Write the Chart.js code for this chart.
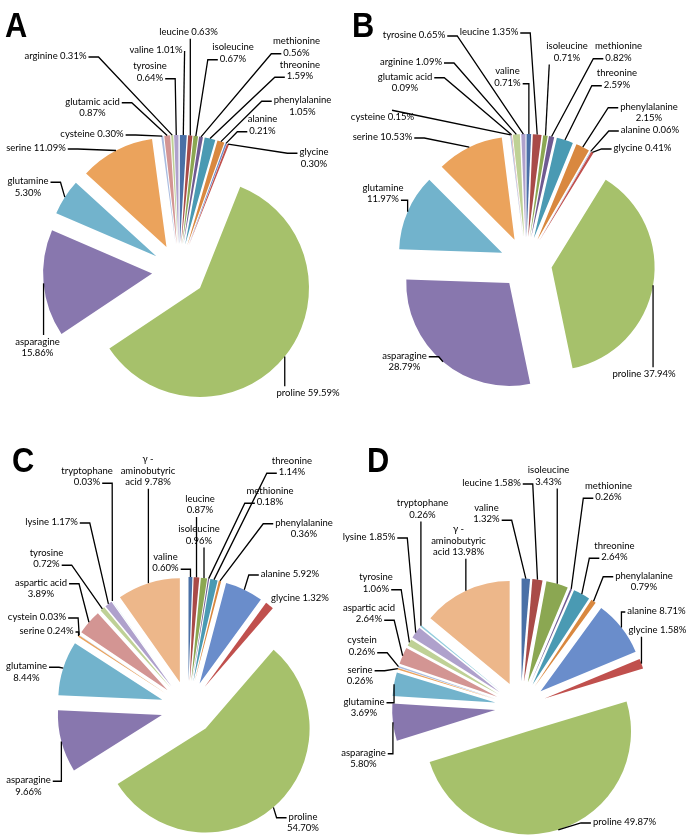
<!DOCTYPE html>
<html>
<head>
<meta charset="utf-8">
<script src="https://cdn.jsdelivr.net/npm/chart.js@4.4.1/dist/chart.umd.min.js"></script>
<style>
  body { margin: 0; background: #fff; }
  #wrap { position: relative; width: 689px; height: 838px; overflow: hidden; }
  #wrap canvas { position: absolute; left: 0; top: 0; }
  .tag { position: absolute; font: bold 35px "Liberation Sans", Arial, sans-serif; line-height: 35px; color: #000; transform: scaleX(0.88); transform-origin: left top; }
</style>
</head>
<body>
<div id="wrap">
  <canvas id="pieA" width="689" height="838"></canvas>
  <canvas id="pieB" width="689" height="838"></canvas>
  <canvas id="pieC" width="689" height="838"></canvas>
  <canvas id="pieD" width="689" height="838"></canvas>
  <div class="tag" style="left:5px;top:7px">A</div>
  <div class="tag" style="left:352px;top:7px">B</div>
  <div class="tag" style="left:12px;top:442px">C</div>
  <div class="tag" style="left:367px;top:442px">D</div>
</div>
<script>
// amino acids, clockwise from 12 o'clock
const namesAB = ['valine', 'leucine', 'isoleucine', 'methionine', 'threonine', 'phenylalanine',
  'alanine', 'glycine', 'proline', 'asparagine', 'glutamine', 'serine',
  'cysteine', 'glutamic acid', 'arginine', 'tyrosine'];
const namesCD = ['valine', 'leucine', 'isoleucine', 'methionine', 'threonine', 'phenylalanine',
  'alanine', 'glycine', 'proline', 'asparagine', 'glutamine', 'serine',
  'cystein', 'aspartic acid', 'tyrosine', 'lysine', 'tryptophane', 'γ - aminobutyric acid'];

// percentages
const valuesA = [1.01, 0.63, 0.67, 0.56, 1.59, 1.05, 0.21, 0.30, 59.59, 15.86, 5.30, 11.09, 0.30, 0.87, 0.31, 0.64];
const valuesB = [0.71, 1.35, 0.71, 0.82, 2.59, 2.15, 0.06, 0.41, 37.94, 28.79, 11.97, 10.53, 0.15, 0.09, 1.09, 0.65];
const valuesC = [0.60, 0.87, 0.96, 0.18, 1.14, 0.36, 5.92, 1.32, 54.70, 9.66, 8.44, 0.24, 0.03, 3.89, 0.72, 1.17, 0.03, 9.78];
const valuesD = [1.32, 1.58, 3.43, 0.26, 2.64, 0.79, 8.71, 1.58, 49.87, 5.80, 3.69, 0.26, 0.26, 2.64, 1.06, 1.85, 0.26, 13.98];

const palette = ['#4a70a6', '#a94b48', '#8ba752', '#6f5a91', '#4a9ab3', '#d9883f',
  '#6a8dcb', '#c0504d', '#a6c16b', '#8877ae', '#72b3cc', '#eba35c',
  '#a9bce0', '#d39593', '#bfd196', '#afa1cc', '#93cddd', '#edb78a'];

// label placement: [x, y, side, attach line, wrap, attach x]
// wrap: 0 one line, 1 name / value, array = words per line
const layoutA = [
  [156, 50, 'r', 0, 0], [188.5, 32, 'b', 0, 0], [233, 53, 'l', 1, 1], [296.5, 47, 'l', 1, 1],
  [300, 70.5, 'l', 1, 1], [302.5, 106, 'l', 0, 1], [262.5, 125, 'l', 1, 1], [314, 158, 'l', 0, 1],
  [308, 393, 't', 0, 0], [37.5, 347.5, 't', 0, 1], [28, 187, 'r', 0, 1], [36, 148, 'r', 0, 0],
  [92, 134, 'r', 0, 0], [92.5, 107.5, 'r', 0, 1], [55.5, 56, 'r', 0, 0], [150, 72, 'r', 1, 1]
];
const layoutB = [
  [507.5, 77, 'r', 1, 1], [489, 32, 'r', 0, 0], [567, 52, 'b', 0, 1], [618.5, 52, 'l', 1, 1],
  [617, 79, 'l', 1, 1], [649, 112.5, 'l', 0, 1], [650, 130, 'l', 0, 0], [642.5, 148, 'l', 0, 0],
  [644, 374, 't', 0, 0], [404.5, 361.5, 'r', 0, 1], [383, 193.5, 'r', 1, 1], [382.5, 137, 'r', 0, 0],
  [382.5, 117, 't', 0, 0, 392], [405, 82.5, 'r', 0, 1], [411, 62, 'r', 0, 0], [414, 35, 'r', 0, 0]
];
const layoutC = [
  [165.5, 562.5, 'r', 1, 1], [200, 504.5, 'b', 0, 1], [199, 535, 'b', 0, 1], [270, 496.5, 'l', 1, 1],
  [292, 466.5, 'l', 1, 1], [304, 528.5, 'l', 0, 1], [290, 574, 'l', 0, 0], [300, 598, 'n', 0, 0],
  [303, 822.5, 'l', 0, 1], [28.5, 786, 'r', 0, 1], [26.5, 672, 'r', 0, 1], [46.5, 631, 'r', 0, 0],
  [37, 617, 'r', 0, 0], [41, 588.5, 'r', 0, 1], [46.5, 558.5, 'r', 1, 1], [51.5, 522, 'r', 0, 0],
  [87, 476.5, 'r', 1, 1], [148, 470.5, 'b', 0, [2, 1, 2]]
];
const layoutD = [
  [486.5, 513.5, 'r', 1, 1], [491.5, 483, 'r', 0, 0], [548.5, 476, 'b', 0, 1], [608.5, 491.5, 'l', 1, 1],
  [614.5, 551.5, 'l', 1, 1], [644, 581.5, 'l', 0, 1], [656.5, 611, 'l', 0, 0], [657.5, 630, 'b', 0, 0],
  [624.5, 822, 'l', 0, 0], [363.5, 758.5, 'r', 0, 1], [364, 707.5, 'r', 0, 1], [360, 675.5, 'r', 0, 1],
  [362, 646, 'r', 1, 1], [369, 613.5, 'r', 1, 1], [376, 583, 'r', 1, 1], [369, 537, 'r', 0, 0],
  [422.5, 509, 'b', 0, 1], [458.5, 540.5, 'b', 0, [2, 1, 2]]
];

const FONT = '9.5px Lato, "Open Sans", sans-serif';
const LH = 11.5;
const INK = '#000';

// pull every slice out along its mid angle
const explodePlugin = {
  id: 'explode',
  afterDatasetUpdate(chart, args, opts) {
    const d = opts.distance || 0;
    args.meta.data.forEach(arc => {
      const mid = (arc.startAngle + arc.endAngle) / 2;
      arc.x += d * Math.cos(mid);
      arc.y += d * Math.sin(mid);
    });
  }
};

// excel style data labels with leader lines
const labelPlugin = {
  id: 'aaLabels',
  afterDatasetsDraw(chart, args, opts) {
    const ctx = chart.ctx;
    const arcs = chart.getDatasetMeta(0).data;
    const names = chart.data.labels;
    const vals = chart.data.datasets[0].data;
    ctx.save();
    ctx.font = FONT;
    ctx.fillStyle = INK;
    ctx.strokeStyle = INK;
    ctx.lineWidth = 1.3;
    ctx.textAlign = 'center';
    ctx.textBaseline = 'middle';
    opts.layout.forEach((spec, i) => {
      const [x, y, side, k, wrap, fixX] = spec;
      const words = (names[i] + ' ' + vals[i].toFixed(2) + '%').split(' ');
      let counts = [words.length];
      if (Array.isArray(wrap)) counts = wrap;
      else if (wrap) counts = [words.length - 1, 1];
      const lines = [];
      let p = 0;
      counts.forEach(c => { lines.push(words.slice(p, p + c).join(' ')); p += c; });
      const top = y - lines.length * LH / 2;
      const widths = lines.map(t => ctx.measureText(t).width);
      lines.forEach((t, j) => ctx.fillText(t, x, top + (j + 0.5) * LH));

      if (side === 'n') return;
      const arc = arcs[i];
      const mid = (arc.startAngle + arc.endAngle) / 2;
      const ax = arc.x + arc.outerRadius * Math.cos(mid);
      const ay = arc.y + arc.outerRadius * Math.sin(mid);
      const half = Math.max(...widths) / 2;
      let ex, ey, bx;
      if (side === 'l' || side === 'r') {
        ey = top + (k + 0.5) * LH + 1;
        if (side === 'l') {
          ex = x - widths[k] / 2 - 2;
          bx = ex - Math.min(10, Math.max(0, ex - ax));
        } else {
          ex = x + widths[k] / 2 + 2;
          bx = ex + Math.min(10, Math.max(0, ax - ex));
        }
      } else {
        ex = fixX !== undefined ? fixX : Math.min(Math.max(ax, x - half + 3), x + half - 3);
        ey = side === 't' ? top - 1 : top + lines.length * LH + 1;
        bx = ex;
      }
      ctx.beginPath();
      ctx.moveTo(ex, ey);
      ctx.lineTo(bx, ey);
      ctx.lineTo(ax, ay);
      ctx.stroke();
    });
    ctx.restore();
  }
};

function makePie(id, names, values, layout, cx, cy, radius, explode) {
  const W = 689, H = 838;
  return new Chart(document.getElementById(id), {
    type: 'pie',
    data: {
      labels: names,
      datasets: [{
        data: values,
        backgroundColor: palette.slice(0, values.length),
        borderWidth: 0,
        clip: false
      }]
    },
    options: {
      responsive: false,
      animation: false,
      events: [],
      radius: radius,
      layout: {
        padding: {
          left: Math.max(0, 2 * cx - W), right: Math.max(0, W - 2 * cx),
          top: Math.max(0, 2 * cy - H), bottom: Math.max(0, H - 2 * cy)
        }
      },
      plugins: {
        legend: { display: false },
        tooltip: { enabled: false },
        explode: { distance: explode },
        aaLabels: { layout: layout }
      }
    },
    plugins: [explodePlugin, labelPlugin]
  });
}

makePie('pieA', namesAB, valuesA, layoutA, 179, 271, 109, 27);
makePie('pieB', namesAB, valuesB, layoutB, 526, 263, 103, 26);
makePie('pieC', namesCD, valuesC, layoutC, 188, 708, 104, 27);
makePie('pieD', namesCD, valuesD, layoutD, 520.5, 707, 103, 25.5);
</script>
</body>
</html>
